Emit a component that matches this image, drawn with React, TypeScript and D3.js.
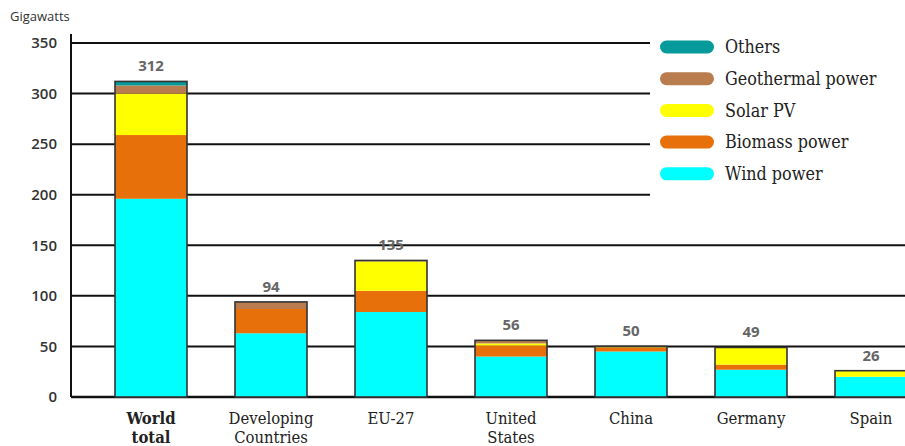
import React from "react";
import * as d3 from "d3";

const categories = ["World total", "Developing Countries", "EU-27", "United States", "China", "Germany", "Spain"];
const wind = [196, 63, 84, 40, 45, 27, 20];
const biomass = [63, 24, 21, 11, 4, 5, 0];
const solar = [41, 0, 29, 2, 1, 17, 6];
const geothermal = [8, 7, 1, 3, 0, 0, 0];
const others = [4, 0, 0, 0, 0, 0, 0];
const totals = [312, 94, 135, 56, 50, 49, 26];
const yTicks = [0, 50, 100, 150, 200, 250, 300, 350];

const seriesKeys = ["wind", "biomass", "solar", "geothermal", "others"];
const seriesNames: Record<string, string> = {
  wind: "Wind power",
  biomass: "Biomass power",
  solar: "Solar PV",
  geothermal: "Geothermal power",
  others: "Others",
};
const colors: Record<string, string> = {
  wind: "#00ffff",
  biomass: "#e8700a",
  solar: "#ffff00",
  geothermal: "#b87c4e",
  others: "#079a9a",
};

const W = 905;
const H = 446;

export default function App() {
  const rows = categories.map((c, i) => ({
    cat: c,
    wind: wind[i],
    biomass: biomass[i],
    solar: solar[i],
    geothermal: geothermal[i],
    others: others[i],
    total: totals[i],
  }));
  const stack = d3.stack<any>().keys(seriesKeys);
  const layers = stack(rows);

  const x = d3.scaleBand<string>().domain(categories).range([67, 955]).padding(0.4);
  const y = d3.scaleLinear().domain([0, 350]).range([397, 43]);
  const axisX = 71;

  const legendOrder = ["others", "geothermal", "solar", "biomass", "wind"];

  return (
    <svg width={W} height={H} style={{ position: "absolute", left: 0, top: 0, background: "#fff" }}>
      <text x={10} y={21} fontFamily="'Open Sans', sans-serif" fontSize={13} fill="#333">Gigawatts</text>
      {yTicks.map((t) => (
        <g key={t}>
          <line x1={axisX} x2={W} y1={y(t)} y2={y(t)} stroke="#111" strokeWidth={t === 0 ? 2.5 : 2} />
          <text x={57} y={y(t)} dy="0.35em" textAnchor="end" fontFamily="'Open Sans', sans-serif" fontWeight={600} fontSize={15} fill="#333">{t}</text>
        </g>
      ))}
      <line x1={axisX} x2={axisX} y1={34} y2={y(0)} stroke="#111" strokeWidth={2} />
      <rect x={650} y={32} width={W - 650} height={168} fill="#fff" />
      {layers.map((layer) => (
        <g key={layer.key}>
          {layer.map((d, i) => (
            <rect key={i} x={x(categories[i])} width={x.bandwidth()} y={y(d[1])} height={Math.max(0, y(d[0]) - y(d[1]))} fill={colors[layer.key]} />
          ))}
        </g>
      ))}
      {rows.map((r, i) => {
        const top = layers[layers.length - 1][i][1];
        return (
          <g key={r.cat}>
            <rect x={x(r.cat)} width={x.bandwidth()} y={y(top)} height={y(0) - y(top)} fill="none" stroke="#333" strokeWidth={1.6} />
            <text x={(x(r.cat) as number) + x.bandwidth() / 2} y={y(top) - 10} textAnchor="middle" fontFamily="'Open Sans', sans-serif" fontWeight="bold" fontSize={15} fill="#666">{r.total}</text>
          </g>
        );
      })}
      {categories.map((c, i) => {
        const words = c.split(" ");
        const cx = (x(c) as number) + x.bandwidth() / 2;
        return (
          <text key={c} x={cx} y={424} textAnchor="middle" fontFamily="'DejaVu Serif Condensed', 'DejaVu Serif', serif" fontSize={16.5} fontWeight={i === 0 ? "bold" : "normal"} fill="#222">
            {words.map((w, j) => (
              <tspan key={j} x={cx} dy={j === 0 ? 0 : 19}>{w}</tspan>
            ))}
          </text>
        );
      })}
      {legendOrder.map((k, i) => (
        <g key={k} transform={`translate(660, ${47 + i * 31.7})`}>
          <rect x={0} y={-6.5} width={54} height={13} rx={6.5} fill={colors[k]} />
          <text x={65} y={0} dy="0.35em" fontFamily="'DejaVu Serif Condensed', 'DejaVu Serif', serif" fontSize={17.8} fill="#222">{seriesNames[k]}</text>
        </g>
      ))}
    </svg>
  );
}
